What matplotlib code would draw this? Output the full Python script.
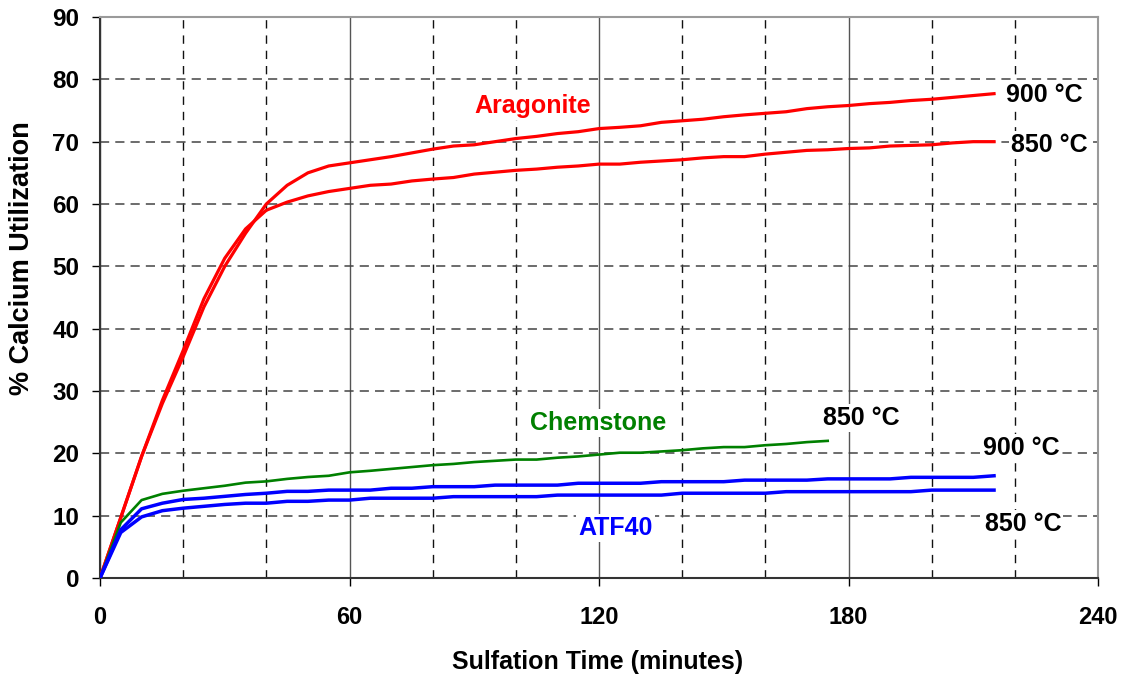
import matplotlib
matplotlib.use("Agg")
import matplotlib.pyplot as plt

plt.rcParams['font.family'] = ['Liberation Sans', 'DejaVu Sans']
plt.rcParams['font.weight'] = 'bold'

# ---- data ----
time_long = [0, 5, 10, 15, 20, 25, 30, 35, 40, 45, 50, 55, 60, 65, 70, 75, 80, 85, 90, 95,
             100, 105, 110, 115, 120, 125, 130, 135, 140, 145, 150, 155, 160, 165, 170, 175,
             180, 185, 190, 195, 200, 205, 210, 215]
time_chem = time_long[:36]

aragonite_900 = [0, 9.7, 19.5, 28.0, 35.5, 43.5, 50.0, 55.3, 60.0, 63.0, 65.0, 66.1, 66.6, 67.1,
                 67.6, 68.2, 68.8, 69.3, 69.5, 70.0, 70.5, 70.85, 71.3, 71.6, 72.1, 72.3, 72.55,
                 73.1, 73.35, 73.6, 74.0, 74.3, 74.55, 74.8, 75.3, 75.6, 75.8, 76.1, 76.3, 76.6,
                 76.8, 77.1, 77.4, 77.7]
aragonite_850 = [0, 9.7, 19.5, 28.5, 36.5, 44.8, 51.3, 56.0, 59.0, 60.3, 61.3, 62.0, 62.5, 63.0,
                 63.2, 63.7, 64.0, 64.25, 64.8, 65.1, 65.4, 65.6, 65.9, 66.1, 66.4, 66.4, 66.7,
                 66.9, 67.1, 67.4, 67.6, 67.6, 68.0, 68.3, 68.6, 68.7, 68.9, 69.0, 69.3, 69.4,
                 69.5, 69.8, 70.0, 70.0]
chemstone_850 = [0, 8.9, 12.5, 13.5, 14.0, 14.4, 14.8, 15.3, 15.5, 15.9, 16.2, 16.4, 16.95, 17.2,
                 17.5, 17.8, 18.1, 18.3, 18.6, 18.8, 19.0, 19.0, 19.3, 19.5, 19.8, 20.1, 20.1,
                 20.3, 20.5, 20.8, 21.0, 21.0, 21.3, 21.5, 21.8, 22.0]
atf40_900 = [0, 7.75, 11.1, 12.0, 12.6, 12.8, 13.1, 13.4, 13.6, 13.9, 13.9, 14.1, 14.1, 14.1,
             14.4, 14.4, 14.65, 14.65, 14.65, 14.9, 14.9, 14.9, 14.9, 15.2, 15.2, 15.2, 15.2,
             15.45, 15.45, 15.45, 15.45, 15.7, 15.7, 15.7, 15.7, 15.9, 15.9, 15.9, 15.9, 16.15,
             16.15, 16.15, 16.15, 16.4]
atf40_850 = [0, 7.3, 9.8, 10.8, 11.2, 11.5, 11.8, 12.0, 12.0, 12.3, 12.3, 12.5, 12.5, 12.8,
             12.8, 12.8, 12.8, 13.05, 13.05, 13.05, 13.05, 13.05, 13.3, 13.3, 13.3, 13.3, 13.3,
             13.3, 13.6, 13.6, 13.6, 13.6, 13.6, 13.85, 13.85, 13.85, 13.85, 13.85, 13.85, 13.85,
             14.1, 14.1, 14.1, 14.1]

x_ticks = [0, 60, 120, 180, 240]
x_minor = [20, 40, 80, 100, 140, 160, 200, 220]
y_ticks = [0, 10, 20, 30, 40, 50, 60, 70, 80, 90]

# ---- figure ----
fig = plt.figure(figsize=(11.25, 6.8), dpi=100)
ax = fig.add_axes([100 / 1125, 1 - 578 / 680, 998 / 1125, 561 / 680])
ax.set_xlim(0, 240)
ax.set_ylim(0, 90)
ax.set_xticks(x_ticks)
ax.set_xticks(x_minor, minor=True)
ax.set_yticks(y_ticks)

ax.set_axisbelow(True)
ax.grid(which='major', axis='x', color='#555555', linewidth=1.0, linestyle='-')
ax.grid(which='minor', axis='x', color='#111111', linewidth=1.0, linestyle=(0, (6, 5)))
ax.grid(which='major', axis='y', color='#444444', linewidth=1.1, linestyle=(0, (6, 4)))

ax.tick_params(which='minor', length=0)
ax.tick_params(axis='both', which='major', direction='out', length=6, width=1.0,
               color='black')
ax.tick_params(axis='y', pad=9, labelsize=17.5)
ax.tick_params(axis='x', pad=14, labelsize=17)
for lab in ax.get_xticklabels() + ax.get_yticklabels():
    lab.set_fontweight('bold')

for s in ['left', 'bottom']:
    ax.spines[s].set_color('#333333')
    ax.spines[s].set_linewidth(1.5)
for s in ['top', 'right']:
    ax.spines[s].set_color('#9a9a9a')
    ax.spines[s].set_linewidth(1.5)

ax.plot(time_long, aragonite_900, color='#ff0000', linewidth=2.3, zorder=3)
ax.plot(time_long, aragonite_850, color='#ff0000', linewidth=2.3, zorder=3)
ax.plot(time_chem, chemstone_850, color='#008000', linewidth=1.9, zorder=3)
ax.plot(time_long, atf40_900, color='#0000ff', linewidth=2.5, zorder=3)
ax.plot(time_long, atf40_850, color='#0000ff', linewidth=2.5, zorder=3)

box = dict(facecolor='white', edgecolor='none', pad=1.5)
txt = dict(fontsize=18, fontweight='bold', ha='center', va='baseline', zorder=4, bbox=box)
ax.text(104.0, 74.6, 'Aragonite', color='#ff0000', **txt)
ax.text(227.0, 76.4, '900 °C', color='black', **txt)
ax.text(228.2, 68.4, '850 °C', color='black', **txt)
ax.text(119.8, 23.7, 'Chemstone', color='#008000', **txt)
ax.text(183.2, 24.6, '850 °C', color='black', **txt)
ax.text(221.6, 19.7, '900 °C', color='black', **txt)
ax.text(124.0, 6.95, 'ATF40', color='#0000ff', **txt)
ax.text(222.0, 7.5, '850 °C', color='black', **txt)

fig.text(22 / 1125, 1 - 258 / 680, '% Calcium Utilization', rotation=90, fontsize=19.5,
         fontweight='bold', ha='center', va='center')
fig.text(598 / 1125, 1 - 662 / 680, 'Sulfation Time (minutes)', fontsize=18,
         fontweight='bold', ha='center', va='center')

fig.savefig('out.png', dpi=100)
